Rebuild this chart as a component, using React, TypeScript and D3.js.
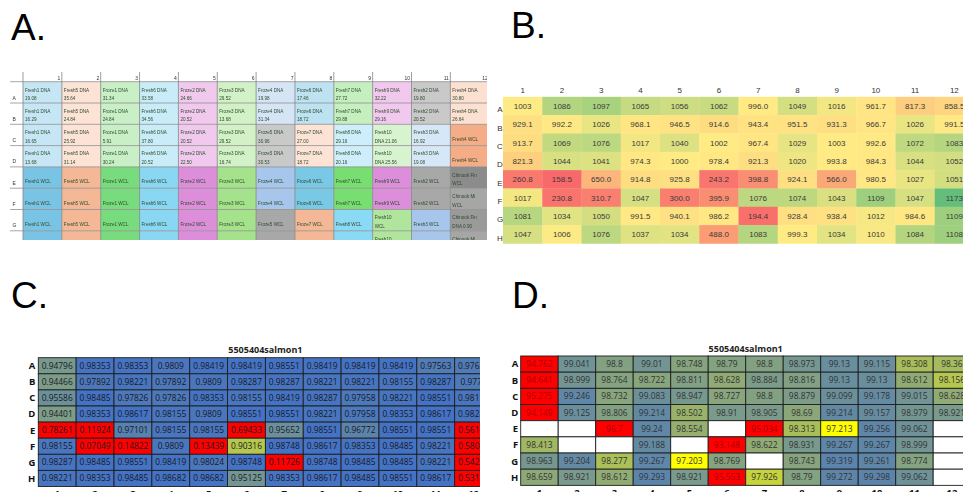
import * as d3 from "d3";
import { useEffect, useRef } from "react";

const width = 963;
const height = 492;

const rowNames = ["A", "B", "C", "D", "E", "F", "G", "H"];
const colNames = d3.range(1, 13).map(String);

// Panel A: plate layout, "|" marks a line break inside a cell
const layoutA = [
  ["Fresh1 DNA|19.08", "Fresh5 DNA|35.64", "Froze1 DNA|31.34", "Fresh6 DNA|33.58", "Froze2 DNA|24.66", "Froze3 DNA|29.52", "Froze4 DNA|19.98", "Froze6 DNA|17.46", "Fresh7 DNA|27.72", "Fresh9 DNA|32.22", "Fresh2 DNA|19.80", "Fresh4 DNA|30.80"],
  ["Fresh1 DNA|16.29", "Fresh5 DNA|24.84", "Froze1 DNA|24.84", "Fresh6 DNA|34.56", "Froze2 DNA|20.52", "Froze3 DNA|13.68", "Froze4 DNA|31.34", "Froze6 DNA|18.72", "Fresh7 DNA|29.88", "Fresh9 DNA|29.16", "Fresh2 DNA|20.52", "Fresh4 DNA|26.64"],
  ["Fresh1 DNA|16.65", "Fresh5 DNA|25.92", "Froze1 DNA|5.91", "Fresh6 DNA|37.80", "Froze2 DNA|20.52", "Froze3 DNA|29.52", "Froze5 DNA|30.96", "Froze7 DNA|27.00", "Fresh8 DNA|29.16", "Fresh10|DNA 21.06", "Fresh3 DNA|16.92", "Fresh4 WCL"],
  ["Fresh1 DNA|13.68", "Fresh5 DNA|31.14", "Froze1 DNA|30.24", "Fresh6 DNA|20.52", "Froze2 DNA|22.50", "Froze3 DNA|16.74", "Froze5 DNA|30.53", "Froze7 DNA|18.72", "Fresh8 DNA|20.16", "Fresh10|DNA 25.56", "Fresh3 DNA|19.08", "Fresh4 WCL"],
  ["Fresh1 WCL", "Fresh5 WCL", "Froze1 WCL", "Fresh6 WCL", "Froze2 WCL", "Froze3 WCL", "Froze4 WCL", "Froze6 WCL", "Fresh7 WCL", "Fresh9 WCL", "Fresh2 WCL", "Chinook Fin|WCL"],
  ["Fresh1 WCL", "Fresh5 WCL", "Froze1 WCL", "Fresh6 WCL", "Froze2 WCL", "Froze3 WCL", "Froze4 WCL", "Froze6 WCL", "Fresh7 WCL", "Fresh9 WCL", "Fresh2 WCL", "Chinook Mi|WCL"],
  ["Fresh1 WCL", "Fresh5 WCL", "Froze1 WCL", "Fresh6 WCL", "Froze2 WCL", "Froze3 WCL", "Froze5 WCL", "Froze7 WCL", "Fresh8 WCL", "Fresh10|WCL", "Fresh3 WCL", "Chinook Fin|DNA 0.90"],
  ["Fresh1 WCL", "Fresh5 WCL", "Froze1 WCL", "Fresh6 WCL", "Froze2 WCL", "Froze3 WCL", "Froze5 WCL", "Froze7 WCL", "Fresh8 WCL", "Fresh10|WCL", "Fresh3 WCL", "Chinook Mi|DNA 0.90"],
];

// [DNA colour, WCL colour] per sample
const sampleColors: Record<string, string[]> = {
  Fresh1: ["#c6e6f5", "#79c4e4"],
  Fresh5: ["#fde2d6", "#f5b896"],
  Froze1: ["#c8efc6", "#78dc7e"],
  Fresh6: ["#c9ecf9", "#8ad7f4"],
  Froze2: ["#f2c9ee", "#dd8edb"],
  Froze3: ["#d2f1c6", "#a5e28c"],
  Froze4: ["#d6e5f6", "#a6c6ec"],
  Froze5: ["#c9c9c9", "#a8a8a8"],
  Froze6: ["#bde2f2", "#79c9e6"],
  Froze7: ["#fde2d6", "#f5b896"],
  Fresh7: ["#c6efc0", "#79de72"],
  Fresh8: ["#cdeefa", "#8ad9f5"],
  Fresh9: ["#f2c9ee", "#dd8edb"],
  Fresh10: ["#d7f3cf", "#b0e59e"],
  Fresh2: ["#c9c9c9", "#a8a8a8"],
  Fresh3: ["#d6e7f8", "#a6c6ec"],
  Fresh4: ["#fce0d2", "#f4ad86"],
  "Chinook Fin": ["#9a9a9a", "#8c8c8c"],
  "Chinook Mi": ["#a6a6a6", "#a6a6a6"],
};

// Panel B: yields
const yieldB = [
  [1003, 1086, 1097, 1065, 1056, 1062, 996.0, 1049, 1016, 961.7, 817.3, 858.5],
  [929.1, 992.2, 1026, 968.1, 946.5, 914.6, 943.4, 951.5, 931.3, 966.7, 1026, 991.5],
  [913.7, 1069, 1076, 1017, 1040, 1002, 967.4, 1029, 1003, 992.6, 1072, 1083],
  [821.3, 1044, 1041, 974.3, 1000, 978.4, 921.3, 1020, 993.8, 984.3, 1044, 1052],
  [260.8, 158.5, 650.0, 914.8, 925.8, 243.2, 398.8, 924.1, 566.0, 980.5, 1027, 1051],
  [1017, 230.8, 310.7, 1047, 300.0, 395.9, 1076, 1074, 1043, 1109, 1047, 1173],
  [1081, 1034, 1050, 991.5, 940.1, 986.2, 194.4, 928.4, 938.4, 1012, 984.6, 1109],
  [1047, 1006, 1076, 1037, 1034, 488.0, 1083, 999.3, 1034, 1010, 1084, 1108],
];

// Panel C: fraction values
const fracC = [
  [0.94796, 0.98353, 0.98353, 0.9809, 0.98419, 0.98419, 0.98551, 0.98419, 0.98419, 0.98419, 0.97563, 0.97628],
  [0.94466, 0.97892, 0.98221, 0.97892, 0.9809, 0.98287, 0.98287, 0.98221, 0.98221, 0.98155, 0.98287, 0.9776],
  [0.95586, 0.98485, 0.97826, 0.97826, 0.98353, 0.98155, 0.98419, 0.98287, 0.97958, 0.98221, 0.98551, 0.98155],
  [0.94401, 0.98353, 0.98617, 0.98155, 0.9809, 0.98551, 0.98551, 0.98221, 0.97958, 0.98353, 0.98617, 0.98287],
  [0.78261, 0.11924, 0.97101, 0.98155, 0.98155, 0.69433, 0.95652, 0.98551, 0.96772, 0.98551, 0.98551, 0.56192],
  [0.98155, 0.07049, 0.14822, 0.9809, 0.13439, 0.90316, 0.98748, 0.98617, 0.98353, 0.98485, 0.98221, 0.58037],
  [0.98287, 0.98485, 0.98551, 0.98419, 0.98024, 0.98748, 0.11726, 0.98748, 0.98485, 0.98485, 0.98221, 0.54282],
  [0.98221, 0.98353, 0.98485, 0.98682, 0.98682, 0.95125, 0.98353, 0.98617, 0.98485, 0.98551, 0.98617, 0.53162],
];

// Panel D: percent values (null = empty well)
const pctD = [
  [94.762, 99.041, 98.8, 99.01, 98.748, 98.79, 98.8, 98.973, 99.13, 99.115, 98.308, 98.36],
  [94.641, 98.999, 98.764, 98.722, 98.811, 98.628, 98.884, 98.816, 99.13, 99.13, 98.612, 98.156],
  [95.275, 99.246, 98.732, 99.083, 98.947, 98.727, 98.8, 98.879, 99.099, 99.178, 99.015, 98.628],
  [94.149, 99.125, 98.806, 99.214, 98.502, 98.91, 98.905, 98.69, 99.214, 99.157, 98.979, 98.921],
  [null, null, 96.7, 99.24, 98.554, null, 95.034, 98.313, 97.213, 99.256, 99.062, null],
  [98.413, null, null, 99.188, null, 93.148, 98.622, 98.931, 99.267, 99.267, 98.999, null],
  [98.963, 99.204, 98.277, 99.267, 97.203, 98.769, null, 98.743, 99.319, 99.261, 98.774, null],
  [98.659, 98.921, 98.612, 99.293, 98.921, 95.553, 97.926, 98.79, 99.272, 99.298, 99.062, null],
];

const plateTitle = "5505404salmon1";

const sampleOf = (label: string) =>
  label.startsWith("Chinook") ? label.split("|")[0] : label.split(" ")[0].split("|")[0];

export default function App() {
  const svgRef = useRef<SVGSVGElement>(null);

  useEffect(() => {
    const svg = d3.select(svgRef.current);
    svg.selectAll("*").remove();

    const defs = svg.append("defs");
    defs.append("filter").attr("id", "soft")
      .append("feGaussianBlur").attr("stdDeviation", 0.35);
    defs.append("clipPath").attr("id", "clipA")
      .append("rect").attr("x", 10).attr("y", 72).attr("width", 477).attr("height", 168);
    defs.append("clipPath").attr("id", "clipC")
      .append("rect").attr("x", 0).attr("y", 250).attr("width", 480).attr("height", 250);

    // panel letters
    const letters = [
      { t: "A.", x: 11, y: 40 },
      { t: "B.", x: 511, y: 38 },
      { t: "C.", x: 11, y: 308 },
      { t: "D.", x: 512, y: 308 },
    ];
    svg.selectAll(".panel-letter")
      .data(letters)
      .enter()
      .append("text")
      .attr("x", d => d.x)
      .attr("y", d => d.y)
      .attr("font-family", "Liberation Sans, Arial, sans-serif")
      .attr("font-size", 37)
      .attr("fill", "#000")
      .text(d => d.t);

    // ---------- Panel A: plate map ----------
    const ax = d3.scaleBand().domain(colNames).range([23, 23 + 12 * 38.85]);
    const ay = d3.scaleBand().domain(rowNames).range([81.7, 81.7 + 8 * 21.3]);
    const gA = svg.append("g").attr("clip-path", "url(#clipA)")
      .append("g").attr("filter", "url(#soft)");

    const cellsA = layoutA.flatMap((row, ri) =>
      row.map((label, ci) => ({ row: rowNames[ri], col: colNames[ci], label }))
    );

    gA.selectAll(".cellA")
      .data(cellsA)
      .enter()
      .append("rect")
      .attr("x", d => ax(d.col)!)
      .attr("y", d => ay(d.row)!)
      .attr("width", ax.bandwidth())
      .attr("height", ay.bandwidth())
      .attr("fill", d => {
        const c = sampleColors[sampleOf(d.label)];
        return d.label.includes("WCL") ? c[1] : c[0];
      });

    // grid lines
    gA.selectAll(".hlineA")
      .data(rowNames.map(r => ay(r)!).concat([ay.range()[1]]))
      .enter()
      .append("line")
      .attr("x1", 10).attr("x2", 490)
      .attr("y1", d => d).attr("y2", d => d)
      .attr("stroke", "#8f8f8f").attr("stroke-width", 0.8);
    gA.selectAll(".vlineA")
      .data([ax.range()[0]].concat(colNames.map(c => ax(c)! + ax.bandwidth())))
      .enter()
      .append("line")
      .attr("x1", d => d).attr("x2", d => d)
      .attr("y1", 72).attr("y2", 240)
      .attr("stroke", "#858585").attr("stroke-width", 0.8);

    gA.selectAll(".colA")
      .data(colNames)
      .enter()
      .append("text")
      .attr("x", d => ax(d)! + ax.bandwidth() - 1.5)
      .attr("y", 79.5)
      .attr("text-anchor", "end")
      .attr("font-family", "Liberation Sans, Arial, sans-serif")
      .attr("font-size", 5)
      .attr("fill", "#333")
      .text(d => d);

    gA.selectAll(".rowA")
      .data(rowNames)
      .enter()
      .append("text")
      .attr("x", 12.5)
      .attr("y", d => ay(d)! + ay.bandwidth() - 3.5)
      .attr("font-family", "Liberation Sans, Arial, sans-serif")
      .attr("font-size", 5)
      .attr("fill", "#333")
      .text(d => d);

    const labelsA = gA.selectAll(".labelA")
      .data(cellsA)
      .enter()
      .append("text")
      .attr("font-family", "Liberation Sans, Arial, sans-serif")
      .attr("font-size", 4.6)
      .attr("fill", "#2e4a2e");
    labelsA.each(function (d) {
      const lines = d.label.split("|");
      const bottom = ay(d.row)! + ay.bandwidth();
      const x = ax(d.col)! + 2;
      const t = d3.select(this);
      if (lines.length === 1) {
        t.append("tspan").attr("x", x).attr("y", bottom - 5).text(lines[0]);
      } else {
        t.append("tspan").attr("x", x).attr("y", bottom - 11.5).text(lines[0]);
        t.append("tspan").attr("x", x).attr("y", bottom - 3).text(lines[1]);
      }
    });

    // ---------- Panel B: yield heatmap ----------
    const bx = d3.scaleBand().domain(colNames).range([503, 503 + 12 * 39.25]);
    const by = d3.scaleBand().domain(rowNames).range([96.8, 96.8 + 8 * 18.33]);
    const allB = yieldB.flat();
    const bColor = d3.scaleLinear<string>()
      .domain([d3.min(allB)!, d3.median(allB)!, d3.max(allB)!])
      .range(["#f8696b", "#ffeb84", "#63be7b"])
      .interpolate(d3.interpolateRgb);
    const fmtB = d3.format(".4r");

    const cellsB = yieldB.flatMap((row, ri) =>
      row.map((v, ci) => ({ row: rowNames[ri], col: colNames[ci], v }))
    );
    const gB = svg.append("g");
    gB.selectAll(".cellB")
      .data(cellsB)
      .enter()
      .append("rect")
      .attr("x", d => bx(d.col)!)
      .attr("y", d => by(d.row)!)
      .attr("width", bx.bandwidth() + 0.3)
      .attr("height", by.bandwidth() + 0.3)
      .attr("fill", d => bColor(d.v));
    gB.selectAll(".valB")
      .data(cellsB)
      .enter()
      .append("text")
      .attr("x", d => bx(d.col)! + bx.bandwidth() / 2)
      .attr("y", d => by(d.row)! + by.bandwidth() / 2 + 3)
      .attr("text-anchor", "middle")
      .attr("font-family", "Liberation Sans, Arial, sans-serif")
      .attr("font-size", 8)
      .attr("fill", "#3a3a3a")
      .text(d => fmtB(d.v));
    gB.selectAll(".colB")
      .data(colNames)
      .enter()
      .append("text")
      .attr("x", d => bx(d)! + bx.bandwidth() / 2)
      .attr("y", 92.7)
      .attr("text-anchor", "middle")
      .attr("font-family", "Liberation Sans, Arial, sans-serif")
      .attr("font-size", 8)
      .attr("fill", "#333")
      .text(d => d);
    gB.selectAll(".rowB")
      .data(rowNames)
      .enter()
      .append("text")
      .attr("x", 500)
      .attr("y", d => by(d)! + by.bandwidth() / 2 + 6.5)
      .attr("text-anchor", "middle")
      .attr("font-family", "Liberation Sans, Arial, sans-serif")
      .attr("font-size", 8)
      .attr("fill", "#333")
      .text(d => d);

    // ---------- Panels C and D: QC plates ----------
    const drawPlate = (
      g: d3.Selection<SVGGElement, unknown, null, undefined>,
      values: (number | null)[][],
      x0: number, cellW: number, y0: number, cellH: number,
      fill: (v: number | null) => string,
      textFill: (v: number | null) => string,
      titleY: number, labelGap: number
    ) => {
      const x = d3.scaleBand().domain(colNames).range([x0, x0 + 12 * cellW]);
      const y = d3.scaleBand().domain(rowNames).range([y0, y0 + 8 * cellH]);
      const cells = values.flatMap((row, ri) =>
        row.map((v, ci) => ({ row: rowNames[ri], col: colNames[ci], v }))
      );
      g.selectAll(".cell")
        .data(cells)
        .enter()
        .append("rect")
        .attr("x", d => x(d.col)!)
        .attr("y", d => y(d.row)!)
        .attr("width", x.bandwidth())
        .attr("height", y.bandwidth())
        .attr("fill", d => fill(d.v))
        .attr("stroke", "#1e1e1e")
        .attr("stroke-width", 0.9);
      g.selectAll(".val")
        .data(cells.filter(d => d.v !== null))
        .enter()
        .append("text")
        .attr("x", d => x(d.col)! + x.bandwidth() / 2)
        .attr("y", d => y(d.row)! + y.bandwidth() / 2 + 3)
        .attr("text-anchor", "middle")
        .attr("font-family", "Open Sans, Noto Sans, sans-serif")
        .attr("font-size", 8.4)
        .attr("fill", d => textFill(d.v))
        .text(d => String(d.v));
      g.append("text")
        .attr("x", x0 + 6 * cellW)
        .attr("y", titleY)
        .attr("text-anchor", "middle")
        .attr("font-family", "Open Sans, Noto Sans, sans-serif")
        .attr("font-weight", "bold")
        .attr("font-size", 9)
        .attr("fill", "#222")
        .text(plateTitle);
      g.selectAll(".rowL")
        .data(rowNames)
        .enter()
        .append("text")
        .attr("x", x0 - labelGap)
        .attr("y", d => y(d)! + y.bandwidth() / 2 + 3.4)
        .attr("text-anchor", "end")
        .attr("font-family", "Open Sans, Noto Sans, sans-serif")
        .attr("font-weight", "bold")
        .attr("font-size", 9.5)
        .attr("fill", "#111")
        .text(d => d);
      g.selectAll(".colL")
        .data(colNames)
        .enter()
        .append("text")
        .attr("x", d => x(d)! + x.bandwidth() / 2)
        .attr("y", y0 + 8 * cellH + 10.5)
        .attr("text-anchor", "middle")
        .attr("font-family", "Open Sans, Noto Sans, sans-serif")
        .attr("font-weight", "bold")
        .attr("font-size", 9.5)
        .attr("fill", "#111")
        .text(d => d);
    };

    const yellowBlue = d3.interpolateRgb("#ffff00", "#4472c4");
    const cFill = (v: number | null) =>
      v === null ? "#fff" : v < 0.85 ? "#ff0000" : yellowBlue(Math.min(1, (v - 0.85) / (0.985 - 0.85)));
    const dFill = (v: number | null) =>
      v === null ? "#fff" : v < 97 ? "#ff0000" : yellowBlue(Math.min(1, Math.max(0, (v - 97.2) / (99.6 - 97.2))));

    const gC = svg.append("g").attr("clip-path", "url(#clipC)");
    drawPlate(gC, fracC, 38.3, 37.85, 357.7, 16.1, cFill, () => "#1a1a22", 352.7, 3);

    const gD = svg.append("g");
    drawPlate(gD, pctD, 520.7, 37.5, 356, 16.17, dFill,
      v => (v !== null && v < 97 ? "#a80000" : "#333"), 351.7, 2.5);
  }, []);

  return (
    <svg
      ref={svgRef}
      width={width}
      height={height}
      style={{ position: "absolute", left: 0, top: 0, background: "#fff" }}
    />
  );
}
